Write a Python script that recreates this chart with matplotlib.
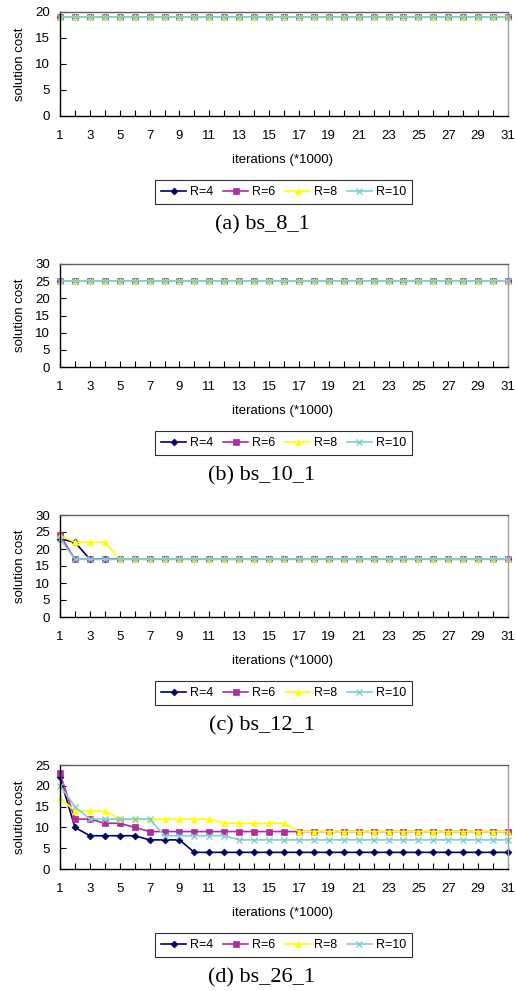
import numpy as np
import matplotlib.pyplot as plt

iters = np.arange(1, 32)
labels = ['R=4', 'R=6', 'R=8', 'R=10']

# (a) bs_8_1
a_r4 = [19] * 31
a_r6 = [19] * 31
a_r8 = [19] * 31
a_r10 = [19] * 31

# (b) bs_10_1
b_r4 = [25] * 31
b_r6 = [25] * 31
b_r8 = [25] * 31
b_r10 = [25] * 31

# (c) bs_12_1
c_r4 = [23, 22, 17] + [17] * 28
c_r6 = [24, 17, 17] + [17] * 28
c_r8 = [24, 22, 22, 22, 17] + [17] * 26
c_r10 = [23, 17, 17] + [17] * 28

# (d) bs_26_1
d_r4 = [22, 10, 8, 8, 8, 8, 7, 7, 7] + [4] * 22
d_r6 = [23, 12, 12, 11, 11, 10, 9, 9, 9] + [9] * 22
d_r8 = [17, 14, 14, 14, 12, 12, 12, 12, 12, 12, 12, 11, 11, 11, 11, 11] + [9] * 15
d_r10 = [20, 15, 12, 12, 12, 12, 12, 8, 8, 8, 8, 8] + [7] * 19

panels = [
    ('(a) bs_8_1', 20, [a_r4, a_r6, a_r8, a_r10], 12, 116),
    ('(b) bs_10_1', 30, [b_r4, b_r6, b_r8, b_r10], 264, 367),
    ('(c) bs_12_1', 30, [c_r4, c_r6, c_r8, c_r10], 515, 617),
    ('(d) bs_26_1', 25, [d_r4, d_r6, d_r8, d_r10], 765, 869),
]

colors = ['#000066', '#B02CA0', '#FFFF00', '#7FCFCF']
markers = ['D', 's', '^', 'x']
msizes = [3.5, 4, 5, 5]

W, H = 516, 991
fig = plt.figure(figsize=(W / 100, H / 100), dpi=100)
plt.rcParams['font.family'] = ['Liberation Sans', 'DejaVu Sans']

fs = 9.5
left, right = 60, 508
for caption, ymax, series, top, bottom in panels:
    ax = fig.add_axes([left / W, 1 - bottom / H, (right - left) / W, (bottom - top) / H])
    for ys, lab, c, m, ms in zip(series, labels, colors, markers, msizes):
        ax.plot(iters, ys, color=c, marker=m, markersize=ms, linewidth=1.2,
                markeredgewidth=1.0 if m == 'x' else 0.5, label=lab, clip_on=False)
    ax.set_xlim(1, 31)
    ax.set_ylim(0, ymax)
    ax.set_yticks(np.arange(0, ymax + 1, 5))
    ax.set_xticks(iters)
    ax.set_xticklabels([str(i) if i % 2 == 1 else '' for i in iters])
    ax.tick_params(axis='x', direction='in', length=4, pad=10, labelsize=fs)
    ax.tick_params(axis='y', direction='in', length=4, pad=7, labelsize=fs)
    ax.spines['left'].set_color('black')
    ax.spines['bottom'].set_color('black')
    ax.spines['top'].set_color('#606060')
    ax.spines['right'].set_color('#A0A0A0')
    for s in ax.spines.values():
        s.set_linewidth(1.0)
    ax.set_ylabel('solution cost', fontsize=fs)
    ax.yaxis.set_label_coords((26 - left) / (right - left), 0.5)
    fig.text(283 / W, 1 - (bottom + 44) / H, 'iterations (*1000)', fontsize=fs,
             ha='center', va='center')
    leg = ax.legend(loc='center', bbox_to_anchor=(283.5 / W, 1 - (bottom + 76) / H),
                    bbox_transform=fig.transFigure, ncol=4, fontsize=9, frameon=True,
                    fancybox=False, edgecolor='black', handlelength=2.0, handletextpad=0.3,
                    columnspacing=0.8, borderpad=0.45, borderaxespad=0)
    leg.get_frame().set_linewidth(0.8)
    fig.text(262 / W, 1 - (bottom + 109) / H, caption, fontsize=16,
             family=['Liberation Serif', 'DejaVu Serif'], ha='center', va='center')

fig.savefig('out.png', dpi=100)
